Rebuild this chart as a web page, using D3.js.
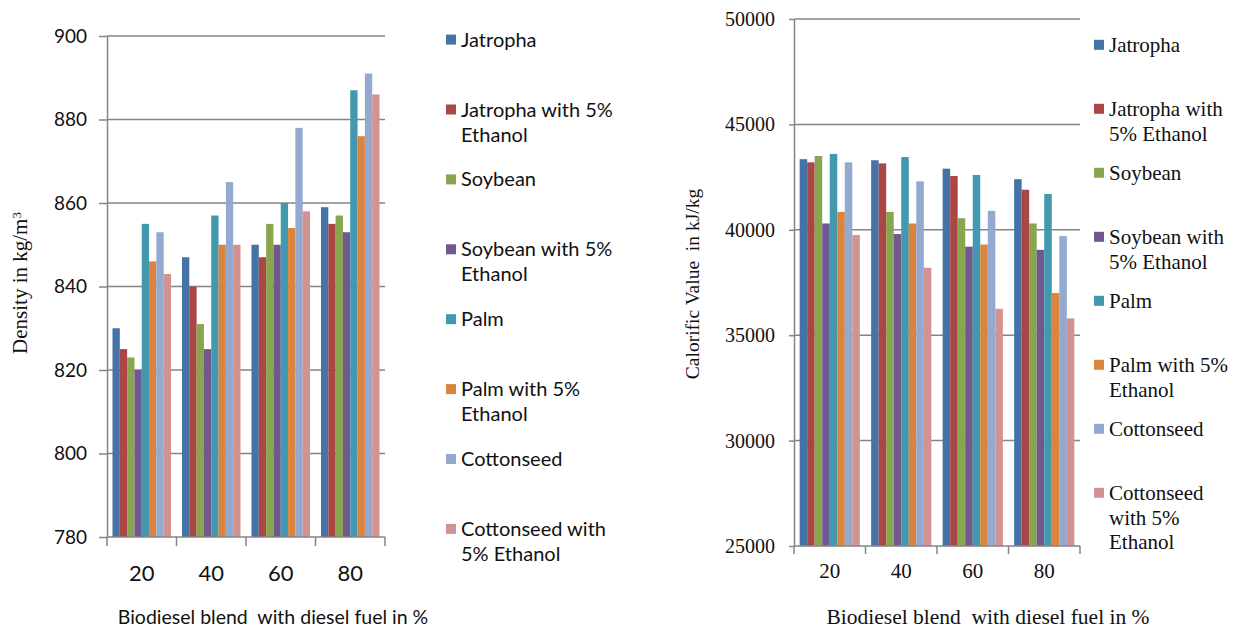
<!DOCTYPE html>
<html>
<head>
<meta charset="utf-8">
<script src="https://cdn.jsdelivr.net/npm/d3@7"></script>
<style>
  html, body { margin: 0; padding: 0; background: #fff; }
  svg { display: block; }
</style>
</head>
<body>
<svg id="chart" width="1244" height="628"></svg>
<script>
// ---------- DATA ----------
const categories = ["20", "40", "60", "80"];
const seriesNames = [
  "Jatropha", "Jatropha with 5% Ethanol", "Soybean", "Soybean with 5% Ethanol",
  "Palm", "Palm with 5% Ethanol", "Cottonseed", "Cottonseed with 5% Ethanol"
];
const seriesColors = ["#4572A7", "#AA4643", "#89A54E", "#71588F", "#4198AF", "#DB843D", "#93A9CF", "#D19392"];

// Density (kg/m3), one array per series, values for blends 20, 40, 60, 80
const densityJatropha        = [830, 847, 850, 859];
const densityJatrophaEth     = [825, 840, 847, 855];
const densitySoybean         = [823, 831, 855, 857];
const densitySoybeanEth      = [820, 825, 850, 853];
const densityPalm            = [855, 857, 860, 887];
const densityPalmEth         = [846, 850, 854, 876];
const densityCottonseed      = [853, 865, 878, 891];
const densityCottonseedEth   = [843, 850, 858, 886];

// Calorific value (kJ/kg)
const cvJatropha      = [43350, 43300, 42900, 42400];
const cvJatrophaEth   = [43200, 43150, 42550, 41900];
const cvSoybean       = [43500, 40850, 40550, 40300];
const cvSoybeanEth    = [40300, 39800, 39200, 39050];
const cvPalm          = [43600, 43450, 42600, 41700];
const cvPalmEth       = [40850, 40300, 39300, 37000];
const cvCottonseed    = [43200, 42300, 40900, 39700];
const cvCottonseedEth = [39750, 38200, 36250, 35800];

const densityTicks = [780, 800, 820, 840, 860, 880, 900];
const cvTicks = [25000, 30000, 35000, 40000, 45000, 50000];

const densitySeries = [densityJatropha, densityJatrophaEth, densitySoybean, densitySoybeanEth,
  densityPalm, densityPalmEth, densityCottonseed, densityCottonseedEth];
const cvSeries = [cvJatropha, cvJatrophaEth, cvSoybean, cvSoybeanEth,
  cvPalm, cvPalmEth, cvCottonseed, cvCottonseedEth];

// legend line splits
const legendLeftLines = [["Jatropha"], ["Jatropha with 5%", "Ethanol"], ["Soybean"], ["Soybean with 5%", "Ethanol"],
  ["Palm"], ["Palm with 5%", "Ethanol"], ["Cottonseed"], ["Cottonseed with", "5% Ethanol"]];
const legendRightLines = [["Jatropha"], ["Jatropha with", "5% Ethanol"], ["Soybean"], ["Soybean with", "5% Ethanol"],
  ["Palm"], ["Palm with 5%", "Ethanol"], ["Cottonseed"], ["Cottonseed", "with 5%", "Ethanol"]];

// ---------- DRAW ----------
const svg = d3.select("#chart");
const gridColor = "#858585";

function drawChart(cfg) {
  const g = svg.append("g");
  const x0 = d3.scaleBand().domain(categories).range([cfg.left, cfg.right]).padding(0);
  const x1 = d3.scaleBand().domain(d3.range(seriesNames.length)).range([0, x0.bandwidth()])
    .paddingInner(0).paddingOuter(0.75);
  const y = d3.scaleLinear().domain(cfg.domain).range([cfg.bottom, cfg.top]);

  // gridlines
  g.append("g").selectAll("line").data(cfg.ticks.slice(1)).join("line")
    .attr("x1", cfg.left).attr("x2", cfg.right)
    .attr("y1", d => y(d)).attr("y2", d => y(d))
    .attr("stroke", gridColor).attr("stroke-width", 1.5);

  // bars
  const groups = g.append("g").selectAll("g").data(categories).join("g")
    .attr("transform", d => `translate(${x0(d)},0)`);
  groups.selectAll("rect")
    .data((c, ci) => cfg.series.map((s, si) => ({ si, v: s[ci] })))
    .join("rect")
    .attr("x", d => x1(d.si))
    .attr("width", x1.bandwidth())
    .attr("y", d => y(d.v))
    .attr("height", d => y(cfg.domain[0]) - y(d.v))
    .attr("fill", d => seriesColors[d.si]);

  // y axis
  const yAxis = g.append("g").attr("transform", `translate(${cfg.left},0)`)
    .call(d3.axisLeft(y).tickValues(cfg.ticks).tickFormat(d3.format("d"))
      .tickSize(cfg.yTick).tickPadding(cfg.yPad).tickSizeOuter(0));
  yAxis.select(".domain").attr("stroke", gridColor).attr("stroke-width", 1.5);
  yAxis.selectAll(".tick line").attr("stroke", gridColor).attr("stroke-width", 1.5);
  yAxis.selectAll(".tick text").attr("font-family", cfg.font).attr("font-size", cfg.yTickFont)
    .attr("fill", "#111");

  // x axis (category boundaries as ticks)
  const boundaries = categories.map(c => x0(c)).concat([cfg.right]);
  g.append("line").attr("x1", cfg.left).attr("x2", cfg.right)
    .attr("y1", cfg.bottom).attr("y2", cfg.bottom)
    .attr("stroke", gridColor).attr("stroke-width", 1.5);
  g.append("g").selectAll("line").data(boundaries).join("line")
    .attr("x1", d => d).attr("x2", d => d)
    .attr("y1", cfg.bottom).attr("y2", cfg.bottom + cfg.xTick)
    .attr("stroke", gridColor).attr("stroke-width", 1.5);
  g.append("g").selectAll("text").data(categories).join("text")
    .attr("x", d => x0(d) + x0.bandwidth() / 2)
    .attr("y", cfg.xLabelY)
    .attr("text-anchor", "middle")
    .attr("font-family", cfg.font).attr("font-size", cfg.xTickFont).attr("fill", "#111")
    .text(d => d);

  // x title
  g.append("text").attr("x", cfg.xTitleX).attr("y", cfg.xTitleY)
    .attr("text-anchor", "middle").style("white-space", "pre")
    .attr("font-family", cfg.font).attr("font-size", cfg.xTitleFont).attr("fill", "#111")
    .text("Biodiesel blend  with diesel fuel in %");

  // y title
  const yt = g.append("text")
    .attr("transform", `translate(${cfg.yTitleX},${cfg.yTitleY}) rotate(-90)`)
    .attr("text-anchor", "middle").style("white-space", "pre")
    .attr("font-family", "'Liberation Serif', 'Times New Roman', serif")
    .attr("font-size", cfg.yTitleFont).attr("fill", "#111");
  cfg.yTitle(yt);

  // legend
  const lg = g.append("g");
  cfg.legendLines.forEach((lines, i) => {
    const cy = cfg.legendY0 + i * cfg.legendStep;
    lg.append("rect").attr("x", cfg.legendX).attr("y", cy - cfg.sq / 2)
      .attr("width", cfg.sq).attr("height", cfg.sq).attr("fill", seriesColors[i]);
    lines.forEach((ln, j) => {
      lg.append("text").attr("x", cfg.legendX + cfg.sq + 5).attr("y", cy + j * cfg.legendLH)
        .attr("dy", "0.35em")
        .attr("font-family", cfg.font).attr("font-size", cfg.legendFont).attr("fill", "#111")
        .text(ln);
    });
  });
}

drawChart({
  left: 107, right: 385, top: 36, bottom: 537,
  domain: [780, 900], ticks: densityTicks, series: densitySeries,
  font: "Lato, 'Open Sans', sans-serif", yTickFont: 19, xTickFont: 22, yTick: 8, yPad: 12,
  xTick: 9, xLabelY: 581,
  xTitleX: 273, xTitleY: 624, xTitleFont: 19.5,
  yTitleX: 27, yTitleY: 283, yTitleFont: 21,
  yTitle: t => { t.append("tspan").text("Density in kg/m"); t.append("tspan").attr("dy", "-0.45em").attr("font-size", 13).text("3"); },
  legendLines: legendLeftLines, legendX: 446, legendY0: 39.6, legendStep: 69.9, legendLH: 25,
  sq: 10, legendFont: 20
});

drawChart({
  left: 794, right: 1080, top: 19, bottom: 546,
  domain: [25000, 50000], ticks: cvTicks, series: cvSeries,
  font: "'Liberation Serif', 'Times New Roman', serif", yTickFont: 20, xTickFont: 21, yTick: 5, yPad: 14,
  xTick: 8, xLabelY: 578,
  xTitleX: 988, xTitleY: 624, xTitleFont: 21.5,
  yTitleX: 699, yTitleY: 284, yTitleFont: 19.5,
  yTitle: t => { t.text("Calorific Value  in kJ/kg"); },
  legendLines: legendRightLines, legendX: 1094, legendY0: 44.8, legendStep: 64, legendLH: 24.5,
  sq: 10, legendFont: 21
});
</script>
</body>
</html>
